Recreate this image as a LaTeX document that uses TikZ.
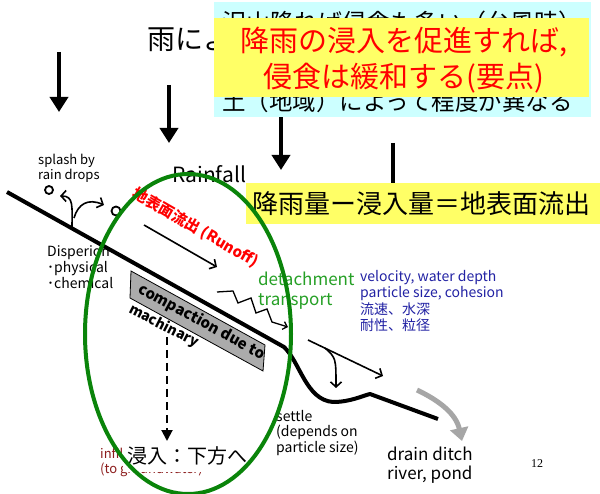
\documentclass[tikz,border=0pt]{standalone}
\usepackage{fontspec}
\setmainfont{Noto Sans CJK JP}
\newfontfamily\pagefont{Liberation Serif}
\usetikzlibrary{arrows.meta}
\definecolor{boxcyan}{HTML}{CCFFFF}
\definecolor{boxyellow}{HTML}{FFFF66}
\definecolor{ringgreen}{HTML}{0A840A}
\definecolor{txtgreen}{HTML}{26A026}
\definecolor{txtblue}{HTML}{2222A4}
\definecolor{txtbrown}{HTML}{8C1C1C}
\newcommand{\fs}[1]{\fontsize{#1}{1.2\dimexpr#1pt\relax}\selectfont}

\begin{document}
\begin{tikzpicture}[x=1pt, y=-1pt,
  rain/.style = {line width=3.6pt, -{Triangle[length=15pt,width=18pt]}},
  flow/.style = {line width=1.6pt, -{Straight Barb[length=5pt,width=11pt]}},
  txt/.style = {inner sep=0pt, anchor=north west, align=left},
  box/.style = {draw=black, line width=0.8pt, fill=black!33}]
\useasboundingbox[fill=white] (0,0) rectangle (600,494);

\node[inner sep=0pt, anchor=west, font=\fs{28}] (title) at (147,40) {雨によって};

\coordinate (r1a) at (59,52);  \coordinate (r1b) at (59,112);
\coordinate (r2a) at (169,85); \coordinate (r2b) at (169,143);
\coordinate (r3a) at (281,112); \coordinate (r3b) at (281,170);
\coordinate (r4a) at (393,143); \coordinate (r4b) at (393,210);
\draw[rain] (r1a) -- (r1b);
\draw[rain] (r2a) -- (r2b);
\draw[rain] (r3a) -- (r3b);
\draw[rain] (r4a) -- (r4b);

\fill[boxcyan] (214,2) rectangle (591,117);
\node[inner sep=0pt, anchor=west, font=\fs{24}] (soil1) at (222,22) {沢山降れば侵食も多い（台風時）};
\node[inner sep=0pt, anchor=west, font=\fs{23.5}] (soil2) at (222,102) {土（地域）によって程度が異なる};

\fill[boxyellow] (214,18) rectangle (589,97);
\node[inner sep=0pt, align=center, red, font=\fontsize{29}{36}\selectfont] (point) at (404,60)
  {降雨の浸入を促進すれば,\\侵食は緩和する(要点)};

\node[inner sep=0pt, anchor=west, font=\fs{21}] (rainfall) at (172,174) {Rainfall};

\fill[boxyellow] (246,183) rectangle (600,224);
\node[inner sep=0pt, anchor=west, font=\fs{26}] (balance) at (252,204) {降雨量ー浸入量＝地表面流出};

\node[txt, font=\fontsize{13}{15}\selectfont] (splash) at (38,154) {splash by\\rain drops};
\node[txt, font=\fontsize{14}{16}\selectfont] (disp) at (47,245) {Disperion\\･physical\\･chemical};

\draw[line width=1.8pt] (49,190) circle (4);
\draw[line width=1.8pt] (116,211) circle (4.5);
\coordinate (sp0) at (72,229);
\coordinate (sp1) at (60,196);
\coordinate (sp2) at (104,205);
\draw[flow] (sp0) .. controls (72,206) and (74,196) .. (sp1);
\draw[flow] (74,218) .. controls (78,204) and (88,198) .. (sp2);

\draw[line width=4pt, line join=round] (7,192) -- (284,347)
  .. controls (300,362) and (306,400) .. (333,402)
  .. controls (350,402) and (362,396) .. (370,394) -- (438,419);

\node[rotate=-30, red, font=\bfseries\fs{15}, inner sep=0pt] (runoff) at (196,228) {地表面流出 (Runoff)};
\coordinate (ro1) at (144,225); \coordinate (ro2) at (217,267);
\draw[flow] (ro1) -- (ro2);

\draw[box] (131,271) -- (265,345) -- (263,371) -- (130,298) -- cycle;
\node[rotate=-28.5, font=\bfseries\fs{15}, inner sep=0pt] (compact) at (202,322) {compaction due to};
\node[rotate=-27, font=\bfseries\fs{14}, inner sep=0pt] (mach) at (164,326) {machinary};

\node[txt, txtgreen, font=\fontsize{17}{20}\selectfont] (detach) at (258,272) {detachment\\transport};
\draw[line width=1.3pt, -{Straight Barb[length=4pt,width=8pt]}]
  (217,292) -- (233,291) -- (238,303) -- (251,298) -- (256,313) -- (267,309) -- (272,322) -- (288,327);

\node[txt, txtblue, font=\fontsize{14}{16.5}\selectfont] (factors) at (360,270)
  {velocity, water depth\\particle size, cohesion\\流速、水深\\耐性、粒径};

\coordinate (fa) at (308,340); \coordinate (fb) at (383,376);
\draw[flow] (fa) -- (fb);
\coordinate (sa) at (325,348); \coordinate (sb) at (336,388);
\draw[flow] (sa) .. controls (336,358) .. (sb);

\coordinate (ga) at (417,390); \coordinate (gb) at (462,441);
\draw[black!35, line width=5pt, -{Triangle[length=13pt,width=18pt]}] (ga) .. controls (440,401) and (456,414) .. (gb);

\node[txt, font=\fontsize{14}{15.5}\selectfont] (settle) at (276,410) {settle\\(depends on\\particle size)};
\node[txt, font=\fontsize{17}{19}\selectfont] (drain) at (387,447) {drain ditch\\river, pond};
\node[inner sep=0pt, font=\pagefont\fs{12}] (page) at (537,464) {12};

\coordinate (da) at (167,337); \coordinate (db) at (167,441);
\draw[line width=2pt, dash pattern=on 8pt off 5pt, -{Triangle[length=11pt,width=11pt]}] (da) -- (db);

\node[txt, txtbrown, font=\fontsize{13}{15}\selectfont] (infil) at (100,448) {infiltration\\(to groundwater)};
\node[fill=white, inner xsep=4pt, minimum height=31pt, font=\fs{20}] (down) at (187,456) {浸入：下方へ};

\draw[ringgreen, line width=4pt] (188,334) ellipse [x radius=103, y radius=160];
\end{tikzpicture}
\end{document}
